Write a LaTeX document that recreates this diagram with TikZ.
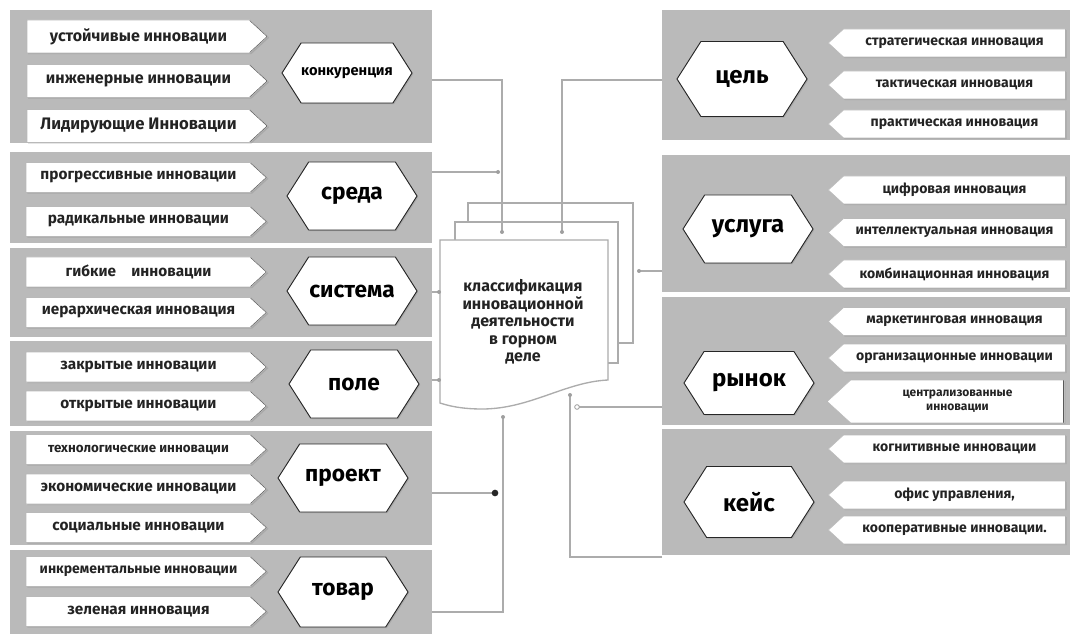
\documentclass[tikz,border=0pt]{standalone}
\usepackage{fontspec}
\setmainfont{Fira Sans}
\usetikzlibrary{shapes.symbols,shadows,calc}
\definecolor{panelgray}{RGB}{186,186,186}
\definecolor{linegray}{RGB}{172,172,172}
\definecolor{txt}{RGB}{35,35,35}
\begin{document}
\begin{tikzpicture}[x=0.75pt,y=-0.75pt,
  panel/.style={fill=panelgray, draw=none, inner sep=0pt, outer sep=0pt},
  itemL/.style={signal, signal to=east, signal pointer angle=85, fill=white, draw=gray!55, line width=0.4pt,
    inner sep=1pt, outer sep=0pt, text=txt, font=\bfseries\fontsize{11.5}{13}\selectfont,
    minimum width=180.75pt, minimum height=22.5pt,
    drop shadow={shadow xshift=0.9pt, shadow yshift=-0.9pt, opacity=0.3},
    path picture={\draw[black!65, line width=1.3pt]
      let \p1=(path picture bounding box.north east), \p2=(path picture bounding box.south east),
          \n1={(\y1-\y2)/2*1.09} in
      (\x1-\n1,\y1) -- (\x1,{(\y1+\y2)/2}) -- (\x1-\n1,\y2);}},
  itemR/.style={signal, signal to=west, signal pointer angle=85, fill=white, draw=gray!55, line width=0.4pt,
    inner sep=1pt, outer sep=0pt, text=txt, font=\bfseries\fontsize{10.5}{12}\selectfont,
    minimum width=177.75pt, minimum height=21pt,
    drop shadow={shadow xshift=0.9pt, shadow yshift=-0.9pt, opacity=0.3},
    path picture={\draw[black!65, line width=1.3pt]
      (path picture bounding box.north east) -- (path picture bounding box.south east);}},
  hexa/.style={signal, signal to=east and west, signal pointer angle=115, fill=white, draw=black!85,
    line width=0.7pt, text=black, font=\bfseries\fontsize{17}{20}\selectfont,
    minimum width=97.5pt, minimum height=51pt, inner sep=0pt, outer sep=0pt,
    drop shadow={shadow xshift=0.9pt, shadow yshift=-0.9pt, opacity=0.3}},
  pageline/.style={draw=gray!65, line width=1pt},
  conn/.style={draw=linegray, line width=1pt},
  gdot/.style={circle, fill=gray!75, inner sep=0pt, minimum size=3pt},
  odot/.style={circle, draw=gray!75, fill=white, inner sep=0pt, minimum size=3.5pt, line width=0.6pt},
  bdot/.style={circle, fill=black!85, inner sep=0pt, minimum size=5pt},
  doctext/.style={align=center, text=txt, font=\bfseries\fontsize{12}{13.2}\selectfont}
]
\useasboundingbox (0,0) rectangle (1080,634);
\fill[white] (0,0) rectangle (1080,634);

% ---------- left panels ----------
\node[panel, minimum width=316.5pt, minimum height=99.75pt] (p1) at (221,76.5) {};
\node[panel, minimum width=316.5pt, minimum height=68.25pt] (p2) at (221,197.5) {};
\node[panel, minimum width=316.5pt, minimum height=66.75pt] (p3) at (221,292.5) {};
\node[panel, minimum width=316.5pt, minimum height=63.75pt] (p4) at (221,383.5) {};
\node[panel, minimum width=316.5pt, minimum height=85.5pt] (p5) at (221,488) {};
\node[panel, minimum width=316.5pt, minimum height=63pt] (p6) at (221,592) {};

% ---------- right panels ----------
\node[panel, minimum width=306pt, minimum height=97.5pt] (r1) at (866,75) {};
\node[panel, minimum width=306pt, minimum height=102.75pt] (r2) at (866,223.5) {};
\node[panel, minimum width=306pt, minimum height=96pt] (r3) at (866,361) {};
\node[panel, minimum width=306pt, minimum height=94.5pt] (r4) at (866,492) {};

% ---------- left items ----------
\node[itemL, minimum height=24.75pt, font=\bfseries\fontsize{12}{14}\selectfont] (l11) at (138.5,36.5) {устойчивые инновации};
\node[itemL, minimum height=24.75pt, font=\bfseries\fontsize{12}{14}\selectfont] (l12) at (138.5,81) {инженерные инновации};
\node[itemL, minimum height=24.75pt, font=\bfseries\fontsize{12.5}{14}\selectfont] (l13) at (138.5,126) {Лидирующие Инновации};
\node[hexa, minimum height=45pt, font=\bfseries\fontsize{11}{13}\selectfont] (h1) at (347,73) {конкуренция};

\node[itemL] (l21) at (138.5,177.5) {прогрессивные инновации};
\node[itemL] (l22) at (138.5,221.5) {радикальные инновации};
\node[hexa] (h2) at (352,196) {среда};

\node[itemL] (l31) at (138.5,272) {гибкие\quad инновации};
\node[itemL] (l32) at (138.5,312.5) {иерархическая инновация};
\node[hexa] (h3) at (352,291) {система};

\node[itemL] (l41) at (138.5,367) {закрытые инновации};
\node[itemL] (l42) at (138.5,406) {открытые инновации};
\node[hexa] (h4) at (354,384) {поле};

\node[itemL, font=\bfseries\fontsize{10}{12}\selectfont] (l51) at (138.5,449.5) {технологические инновации};
\node[itemL] (l52) at (138.5,489) {экономические инновации};
\node[itemL] (l53) at (138.5,527.5) {социальные инновации};
\node[hexa] (h5) at (343,478) {проект};

\node[itemL, font=\bfseries\fontsize{10.5}{12}\selectfont] (l61) at (138.5,571.5) {инкрементальные инновации};
\node[itemL] (l62) at (138.5,611.5) {зеленая инновация};
\node[hexa, minimum height=52.5pt] (h6) at (343,592) {товар};

% ---------- right items ----------
\node[itemR] (q11) at (954.5,43) {стратегическая инновация};
\node[itemR] (q12) at (954.5,85) {тактическая инновация};
\node[itemR] (q13) at (954.5,124) {практическая инновация};
\node[hexa, minimum height=56.25pt, font=\bfseries\fontsize{18}{20}\selectfont] (g1) at (742,79) {цель};

\node[itemR] (q21) at (954.5,190) {цифровая инновация};
\node[itemR] (q22) at (954.5,232.5) {интеллектуальная инновация};
\node[itemR] (q23) at (954.5,274) {комбинационная инновация};
\node[hexa, font=\bfseries\fontsize{18}{20}\selectfont] (g2) at (748,229) {услуга};

\node[itemR] (q31) at (954.5,321.5) {маркетинговая инновация};
\node[itemR] (q32) at (954.5,358) {организационные инновации};
\node[itemR, minimum height=32.25pt, align=center, font=\bfseries\fontsize{9}{10.5}\selectfont] (q33) at (957.5,401.5) {централизованные\\инновации};
\node[hexa, minimum height=47.25pt, font=\bfseries\fontsize{18}{20}\selectfont] (g3) at (749,383) {рынок};

\node[itemR] (q41) at (954.5,449) {когнитивные инновации};
\node[itemR] (q42) at (954.5,495) {офис управления,};
\node[itemR] (q43) at (954.5,530) {кооперативные инновации.};
\node[hexa, minimum height=53.25pt, font=\bfseries\fontsize{18}{20}\selectfont] (g4) at (749,502) {кейс};

% ---------- central document ----------
\draw[pageline, fill=white] (468,222) -- (468,203) -- (633,203) -- (633,343) -- (618,343);
\draw[pageline, fill=white] (455,240) -- (455,222) -- (618,222) -- (618,363) -- (608,363);
\draw[pageline, fill=white] (440,240) -- (608,240) -- (608,380)
   .. controls (565,382) and (530,409) .. (482,409)
   .. controls (462,409) and (449,406) .. (440,403) -- cycle;
\node[doctext] (doc) at (523,322) {классификация\\инновационной\\деятельности\\в горном\\деле};

% ---------- connector points ----------
\coordinate (cL1) at (502,80);
\coordinate (dTopL) at (502,232);
\coordinate (j1) at (498,172);
\coordinate (dL1) at (439,292);
\coordinate (dL2) at (439,380);
\coordinate (dP5) at (495,493);
\coordinate (cB) at (503,612);
\coordinate (dB1) at (503,417);
\coordinate (cR1) at (562,80);
\coordinate (dTopR) at (562,232);
\coordinate (dR1) at (639,271);
\coordinate (dR2) at (577,407);
\coordinate (cR4) at (570,557);
\coordinate (dB2) at (570,395);

% ---------- connectors ----------
\draw[conn] (p1.east |- cL1) -- (cL1) -- (dTopL);
\draw[conn] (p2.east |- j1) -- (j1);
\draw[conn] (p3.east |- dL1) -- (dL1);
\draw[conn] (p4.east |- dL2) -- (dL2);
\draw[conn] (p5.east |- dP5) -- (dP5);
\draw[conn] (p6.east |- cB) -- (cB) -- (dB1);
\draw[conn] (r1.west |- cR1) -- (cR1) -- (dTopR);
\draw[conn] (r2.west |- dR1) -- (dR1);
\draw[conn] (r3.west |- dR2) -- (dR2);
\draw[conn] (r4.west |- cR4) -- (cR4) -- (dB2);

\node[gdot] at (dTopL) {};
\node[gdot] at (j1) {};
\node[gdot] at (dL1) {};
\node[gdot] at (dL2) {};
\node[bdot] at (dP5) {};
\node[gdot] at (dB1) {};
\node[gdot] at (dTopR) {};
\node[gdot] at (dR1) {};
\node[odot] at (dR2) {};
\node[gdot] at (dB2) {};
\end{tikzpicture}
\end{document}
